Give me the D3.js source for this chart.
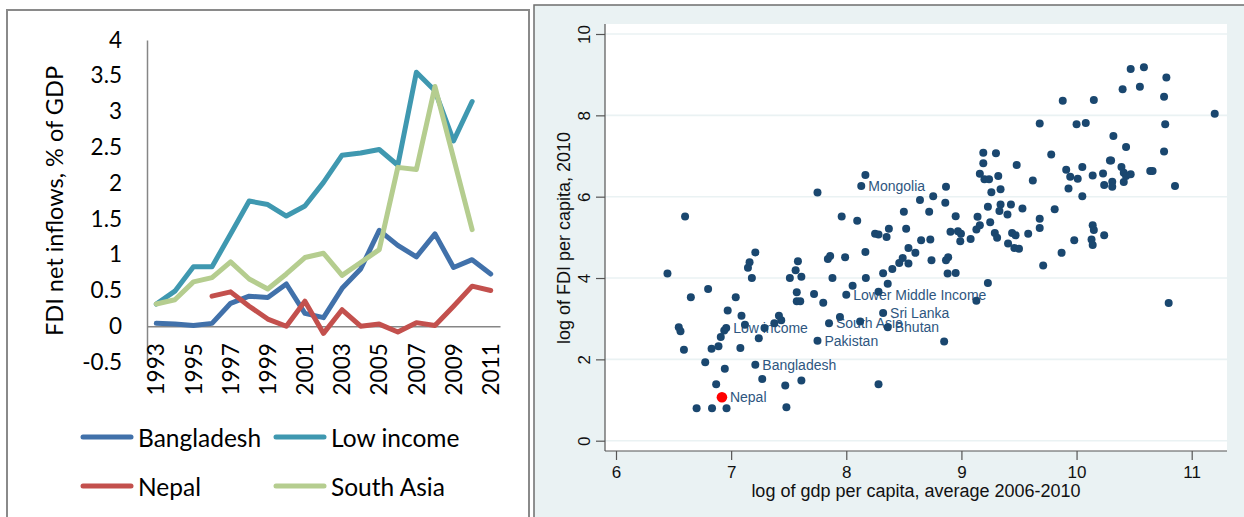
<!DOCTYPE html>
<html><head><meta charset="utf-8">
<script src="https://cdn.jsdelivr.net/npm/d3@7"></script>
<style>
html,body{margin:0;padding:0;background:#fff;}
svg{display:block;}
</style></head>
<body>
<svg id="c" width="1244" height="517"></svg>
<script>
// ---------- Left panel data ----------
const years = ["1993","1994","1995","1996","1997","1998","1999","2000","2001","2002","2003","2004","2005","2006","2007","2008","2009","2010","2011"];
const bangladesh = [0.04,0.03,0.01,0.04,0.32,0.42,0.40,0.59,0.18,0.12,0.53,0.80,1.34,1.13,0.97,1.29,0.82,0.93,0.73];
const lowIncome  = [0.31,0.49,0.83,0.83,1.29,1.75,1.70,1.54,1.68,2.01,2.39,2.42,2.47,2.25,3.55,3.29,2.59,3.14,null];
const nepal      = [null,null,null,0.42,0.48,0.28,0.10,0.00,0.35,-0.10,0.23,0.00,0.03,-0.08,0.05,0.01,0.28,0.56,0.50];
const southAsia  = [0.31,0.37,0.62,0.68,0.90,0.66,0.52,0.73,0.96,1.02,0.71,0.89,1.07,2.22,2.19,3.35,2.35,1.35,null];
const seriesNames = ["Bangladesh","Low income","Nepal","South Asia"];
const seriesColors = ["#4171AA","#3F98B0","#C3504D","#B5CD8F"];
const leftYTicks = [-0.5,0,0.5,1,1.5,2,2.5,3,3.5,4];
const leftYTitle = "FDI net inflows, % of GDP";

// ---------- Right panel data ----------
const gdpLog = [6.447,6.60,6.545,6.56,6.59,6.65,6.80,6.775,6.70,6.83,
6.834,6.87,6.89,6.91,6.94,6.957,6.945,6.96,6.97,7.04,
7.08,7.09,7.12,7.146,7.16,7.21,7.18,7.24,7.29,7.21,
7.27,7.375,7.415,7.435,7.47,7.48,7.51,7.56,7.58,7.61,
7.57,7.57,7.60,7.61,7.72,7.75,7.80,7.75,7.85,7.84,
7.86,7.88,7.945,7.96,7.99,8.00,8.055,8.095,8.12,8.13,
8.166,8.166,8.17,8.25,8.28,8.28,8.28,8.32,8.32,8.35,
8.36,8.37,8.36,8.40,8.46,8.49,8.50,8.52,8.54,8.54,
8.60,8.64,8.65,8.72,8.73,8.74,8.755,8.85,8.86,8.866,
8.866,8.885,8.88,8.905,8.95,8.95,8.97,8.99,8.996,9.08,
9.13,9.13,9.14,9.16,9.16,9.19,9.19,9.20,9.23,9.23,
9.24,9.25,9.26,9.29,9.31,9.30,9.32,9.34,9.34,9.33,
9.40,9.405,9.43,9.44,9.46,9.48,9.47,9.50,9.53,9.58,
9.62,9.68,9.68,9.68,9.71,9.78,9.81,9.87,9.88,9.91,
9.93,9.945,9.98,10.00,10.01,10.05,10.05,10.08,10.13,10.14,
10.15,10.14,10.14,10.15,10.23,10.24,10.24,10.29,10.31,10.31,
10.32,10.39,10.40,10.41,10.41,10.43,10.43,10.47,10.47,10.55,
10.585,10.64,10.66,10.76,10.77,10.76,10.78,10.80,10.855,11.20,
10.30];
const fdiLog = [4.11,5.51,2.79,2.69,2.235,3.525,3.73,1.93,0.80,2.26,
0.80,1.39,2.32,2.55,2.71,2.77,1.77,0.80,3.20,3.53,
2.28,3.07,2.85,4.25,4.39,4.63,4.00,2.52,2.77,1.865,
1.52,2.89,3.07,2.96,1.36,0.82,4.00,4.19,4.41,4.03,
3.65,3.43,3.43,1.48,3.61,6.10,3.39,2.46,2.89,4.47,
4.54,4.00,3.04,5.51,4.51,3.59,3.81,5.41,2.93,6.26,
6.53,4.64,4.00,5.09,5.07,3.66,1.39,3.14,4.12,5.01,
3.86,5.21,2.79,4.22,4.37,4.49,5.63,5.21,4.355,4.74,
4.62,5.92,4.93,5.63,4.95,4.44,6.01,2.44,5.85,6.245,
4.44,4.51,4.11,5.135,4.125,5.52,5.15,4.905,5.09,4.96,
3.44,5.19,5.505,5.30,6.565,7.08,6.82,6.43,5.75,3.88,
6.43,5.37,6.11,5.11,4.99,7.07,6.51,6.18,5.81,5.645,
5.56,4.85,5.81,5.11,4.74,6.78,5.05,4.72,5.71,5.09,
6.40,7.80,5.23,5.46,4.31,7.04,5.69,4.62,8.36,6.66,
6.20,6.49,4.93,7.78,6.44,6.01,6.73,7.81,4.95,5.30,
5.18,4.81,6.52,8.38,6.57,6.29,5.05,6.89,6.37,6.245,
7.49,6.73,8.64,6.59,6.36,7.22,6.51,9.14,6.55,8.70,
9.18,6.63,6.63,8.455,7.78,7.11,8.93,3.385,6.26,8.04,
6.89];
const labelIndex = [15,29,47,48,55,59,67,72];
const labelNames = ["Low income","Bangladesh","Pakistan","South Asia","Lower Middle Income","Mongolia","Sri Lanka","Bhutan"];
const nepalGdp = 6.92, nepalFdi = 1.07, nepalName = "Nepal";
const rightXTicks = [6,7,8,9,10,11];
const rightYTicks = [0,2,4,6,8,10];
const rightXTitle = "log of gdp per capita, average 2006-2010";
const rightYTitle = "log of FDI per capita, 2010";

const svg = d3.select("#c");
const LFONT = "Lato, 'Open Sans', sans-serif";
const RFONT = "'Liberation Sans', Arial, sans-serif";

// ================= LEFT PANEL =================
svg.append("rect").attr("x",7).attr("y",10).attr("width",522).attr("height",530)
  .attr("fill","#fff").attr("stroke","#8a8a8a").attr("stroke-width",2);

const xL = d3.scaleBand().domain(years).range([147,500]);
const yL = d3.scaleLinear().domain([-0.5,4]).range([362,40]);
const cx = d => xL(d) + xL.bandwidth()/2;

// y axis
const gy = svg.append("g").attr("transform","translate(147,0)")
  .call(d3.axisLeft(yL).tickValues(leftYTicks).tickSize(0).tickSizeOuter(0).tickPadding(25)
    .tickFormat(d => String(d)));
gy.select(".domain").attr("stroke","#868686").attr("stroke-width",1.5);
gy.selectAll("text").attr("font-family",LFONT).attr("font-size",22.5).attr("fill","#000");

// x axis at zero
const gx = svg.append("g").attr("transform",`translate(0,${yL(0)})`)
  .call(d3.axisBottom(xL).tickSize(0).tickSizeOuter(0)
    .tickFormat((d,i) => i % 2 === 0 ? d : ""));
gx.select(".domain").attr("stroke","#868686").attr("stroke-width",1.5);
gx.selectAll("text").attr("font-family",LFONT).attr("font-size",22.5).attr("fill","#000")
  .attr("text-anchor","end").attr("transform","rotate(-90)")
  .attr("x",-17).attr("y",0).attr("dy","0.36em");

svg.append("text").attr("transform","translate(63,201) rotate(-90)")
  .attr("text-anchor","middle").attr("font-family",LFONT).attr("font-size",23.5)
  .attr("fill","#000").text(leftYTitle);

const allSeries = [bangladesh, lowIncome, nepal, southAsia];
const line = d3.line().defined(d => d.v !== null).x(d => cx(d.y)).y(d => yL(d.v));
allSeries.forEach((s,k) => {
  const pts = years.map((y,i) => ({y, v: s[i]}));
  svg.append("path").attr("d", line(pts)).attr("fill","none")
    .attr("stroke", seriesColors[k]).attr("stroke-width",5)
    .attr("stroke-linejoin","round").attr("stroke-linecap","round");
});

// legend
const legPos = [[83,437],[276,437],[83,486],[276,486]];
seriesNames.forEach((n,k) => {
  const [lx,ly] = legPos[k];
  svg.append("line").attr("x1",lx).attr("x2",lx+48).attr("y1",ly).attr("y2",ly)
    .attr("stroke",seriesColors[k]).attr("stroke-width",5).attr("stroke-linecap","round");
  svg.append("text").attr("x",lx+55).attr("y",ly).attr("dominant-baseline","central")
    .attr("font-family",LFONT).attr("font-size",24.5).attr("fill","#000").text(n);
});

// ================= RIGHT PANEL =================
svg.append("rect").attr("x",534).attr("y",5).attr("width",730).attr("height",530)
  .attr("fill","#EAF2F3").attr("stroke","#6e6e6e").attr("stroke-width",1.5);
svg.append("rect").attr("x",605).attr("y",24).attr("width",622).attr("height",427).attr("fill","#fff");

const xR = d3.scaleLinear().domain([6,11]).range([616,1191.7]);
const yR = d3.scaleLinear().domain([0,10]).range([440.7,34]);

// gridlines
svg.append("g").selectAll("line").data(rightYTicks).join("line")
  .attr("x1",605).attr("x2",1227).attr("y1",d=>yR(d)).attr("y2",d=>yR(d))
  .attr("stroke","#EAF2F3").attr("stroke-width",1.6);

const gyR = svg.append("g").attr("transform","translate(605,0)")
  .call(d3.axisLeft(yR).tickValues(rightYTicks).tickSize(9).tickSizeOuter(0).tickFormat(d3.format("d")));
gyR.select(".domain").attr("d","M0,24V451").attr("stroke","#555").attr("stroke-width",1.2);
gyR.selectAll(".tick line").attr("stroke","#555").attr("stroke-width",1.2);
gyR.selectAll("text").attr("font-family",RFONT).attr("font-size",17).attr("fill","#111")
  .attr("text-anchor","middle").attr("transform","rotate(-90)")
  .attr("x",0).attr("y",-15).attr("dy","0");

const gxR = svg.append("g").attr("transform","translate(0,451)")
  .call(d3.axisBottom(xR).tickValues(rightXTicks).tickSize(9).tickSizeOuter(0).tickFormat(d3.format("d")));
gxR.select(".domain").attr("d","M605,0H1227").attr("stroke","#555").attr("stroke-width",1.2);
gxR.selectAll(".tick line").attr("stroke","#555").attr("stroke-width",1.2);
gxR.selectAll("text").attr("font-family",RFONT).attr("font-size",17).attr("fill","#111")
  .attr("y",21).attr("dy","0.36em");

svg.append("text").attr("x",916).attr("y",491).attr("text-anchor","middle")
  .attr("dominant-baseline","central").attr("font-family",RFONT).attr("font-size",18)
  .attr("fill","#111").text(rightXTitle);
svg.append("text").attr("transform","translate(564,238) rotate(-90)").attr("text-anchor","middle")
  .attr("dominant-baseline","central").attr("font-family",RFONT).attr("font-size",18)
  .attr("fill","#111").text(rightYTitle);

// labels (under the markers)
svg.append("g").selectAll("text").data(labelIndex).join("text")
  .attr("x",i => xR(gdpLog[i]) + 7).attr("y",i => yR(fdiLog[i]))
  .attr("dominant-baseline","central").attr("font-family",RFONT).attr("font-size",14)
  .attr("fill","#2E5680").text((i,k) => labelNames[k]);

svg.append("g").selectAll("circle").data(gdpLog).join("circle")
  .attr("cx",d => xR(d)).attr("cy",(d,i) => yR(fdiLog[i])).attr("r",4)
  .attr("fill","#1A476F");

svg.append("circle").attr("cx",xR(nepalGdp)).attr("cy",yR(nepalFdi)).attr("r",5.3).attr("fill","#FF0000");
svg.append("text").attr("x",xR(nepalGdp)+8).attr("y",yR(nepalFdi))
  .attr("dominant-baseline","central").attr("font-family",RFONT).attr("font-size",14)
  .attr("fill","#2E5680").text(nepalName);
</script>
</body></html>
